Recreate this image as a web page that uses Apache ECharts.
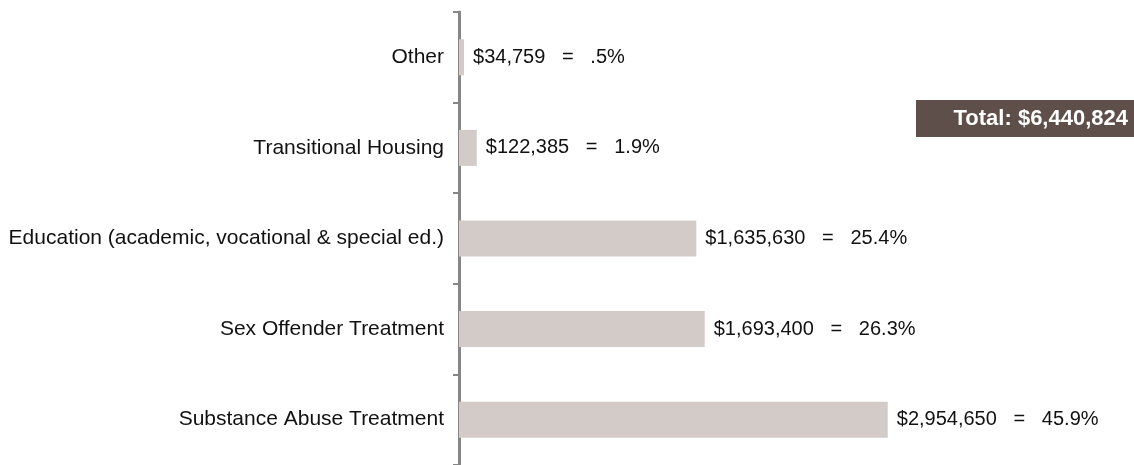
<!DOCTYPE html>
<html><head><meta charset="utf-8">
<script src="https://cdn.jsdelivr.net/npm/echarts@6/dist/echarts.min.js"></script>
<style>html,body{margin:0;padding:0;background:#fff}#c{width:1134px;height:465px}</style>
</head><body><div id="c"></div>
<script>
const categories = ["Other", "Transitional Housing", "Education (academic, vocational & special ed.)", "Sex Offender Treatment", "Substance Abuse Treatment"];
const amounts = [34759, 122385, 1635630, 1693400, 2954650];
const percents = [".5%", "1.9%", "25.4%", "26.3%", "45.9%"];
const totalText = "Total: $6,440,824";

const fmt = v => "$" + v.toLocaleString("en-US");
const chart = echarts.init(document.getElementById("c"));
chart.setOption({
  animation: false,
  grid: { left: 459, top: 12, width: 653, height: 459, containLabel: false },
  xAxis: { type: "value", min: 0, max: 4500000, show: false },
  yAxis: {
    type: "category", data: categories, inverse: true,
    axisLine: { show: true, lineStyle: { color: "#868686", width: 3 } },
    axisTick: { show: true, length: 6, lineStyle: { color: "#868686", width: 2 } },
    axisLabel: { color: "#111", fontSize: 21, fontFamily: "Liberation Sans, Arial", margin: 15 }
  },
  series: [{
    type: "bar", data: amounts, barWidth: 36,
    itemStyle: { color: "#d3cbc8" },
    label: {
      show: true, position: "right", distance: 9,
      color: "#111", fontSize: 20, fontFamily: "Liberation Sans, Arial",
      formatter: p => fmt(p.value) + "   =   " + percents[p.dataIndex]
    }
  }],
  graphic: [{
    type: "group", right: 0, top: 100,
    children: [
      { type: "rect", shape: { x: 0, y: 0, width: 218, height: 37 }, style: { fill: "#5e4f4a" } },
      { type: "text", x: 212, y: 18.5, style: { text: totalText, fill: "#fff", font: "bold 22px Liberation Sans, Arial", align: "right", verticalAlign: "middle" } }
    ]
  }]
});
</script></body></html>
